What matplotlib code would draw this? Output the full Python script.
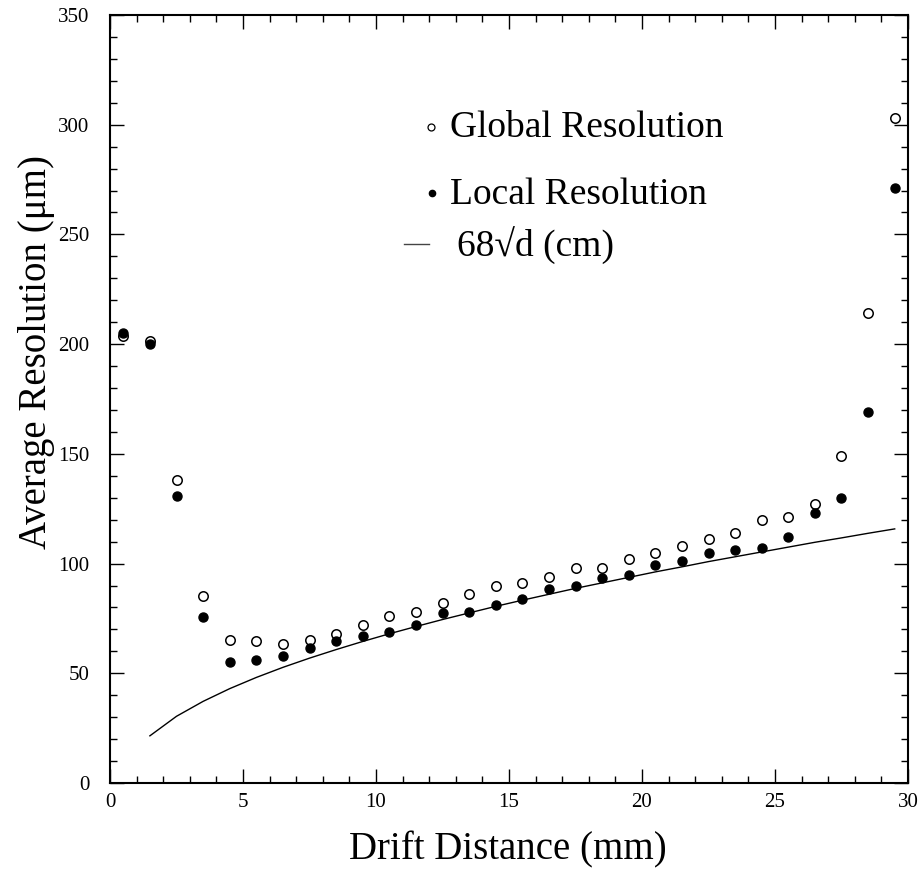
import matplotlib
matplotlib.use("Agg")
import matplotlib.pyplot as plt
from matplotlib.lines import Line2D

# ---- data ----
drift_mm = [0.5, 1.5, 2.5, 3.5, 4.5, 5.5, 6.5, 7.5, 8.5, 9.5,
            10.5, 11.5, 12.5, 13.5, 14.5, 15.5, 16.5, 17.5, 18.5, 19.5,
            20.5, 21.5, 22.5, 23.5, 24.5, 25.5, 26.5, 27.5, 28.5, 29.5]
global_res = [203.5, 201.5, 138, 85, 65, 64.5, 63.5, 65, 68, 72,
              76, 78, 82, 86, 90, 91, 94, 98, 98, 102,
              105, 108, 111, 114, 120, 121, 127, 149, 214, 303]
local_res = [205, 200, 131, 75.5, 55, 56, 58, 61.5, 64.5, 67,
             69, 72, 77.5, 78, 81, 84, 88.5, 90, 93.5, 95,
             99.5, 101, 105, 106, 107, 112, 123, 130, 169, 271]
curve_x = [1.5, 2.5, 3.5, 4.5, 5.5, 6.5, 7.5, 8.5, 9.5, 10.5,
           11.5, 12.5, 13.5, 14.5, 15.5, 16.5, 17.5, 18.5, 19.5, 20.5,
           21.5, 22.5, 23.5, 24.5, 25.5, 26.5, 27.5, 28.5, 29.5]
curve_y = [21.5, 30.4, 37.2, 43.0, 48.1, 52.7, 56.9, 60.8, 64.5, 68.0,
           71.3, 74.5, 77.5, 80.5, 83.3, 86.0, 88.7, 91.2, 93.7, 96.2,
           98.5, 100.9, 103.1, 105.3, 107.5, 109.7, 111.7, 113.8, 115.8]
x_ticks = [0, 5, 10, 15, 20, 25, 30]
y_ticks = [0, 50, 100, 150, 200, 250, 300, 350]

plt.rcParams['font.family'] = ['Liberation Serif', 'DejaVu Serif']

W, H = 924, 875
fig = plt.figure(figsize=(W / 100, H / 100), dpi=100)
ax = fig.add_axes([110 / W, 1 - 783 / H, (908 - 110) / W, (783 - 15) / H])

ax.plot(curve_x, curve_y, color='black', lw=1.0)
ax.plot(drift_mm, global_res, 'o', ms=6.8, mfc='white', mec='black', mew=1.1, ls='none')
ax.plot(drift_mm, local_res, 'o', ms=6.5, mfc='black', mec='black', ls='none')

ax.set_xlim(0, 30)
ax.set_ylim(0, 350)
ax.set_xticks(x_ticks)
ax.set_yticks(y_ticks)
ax.set_xticks(range(0, 31), minor=True)
ax.set_yticks(range(0, 351, 10), minor=True)
ax.tick_params(which='both', direction='in', top=True, right=True, width=1.0, colors='black')
ax.tick_params(which='major', length=10)
ax.tick_params(which='minor', length=5)
ax.tick_params(axis='x', which='major', pad=7, labelsize=15)
ax.tick_params(axis='y', which='major', pad=15, labelsize=15)
for s in ax.spines.values():
    s.set_linewidth(1.5)

fig.text(508 / W, 1 - 850 / H, 'Drift Distance (mm)', ha='center', va='center', fontsize=28)
fig.text(37 / W, 1 - 352 / H, 'Average Resolution (\u03bcm)', ha='center', va='center',
         rotation=90, fontsize=28)

# legend-like annotations
fig.text(450 / W, 1 - 137 / H, 'Global Resolution', ha='left', va='baseline', fontsize=27)
fig.text(450 / W, 1 - 204 / H, 'Local Resolution', ha='left', va='baseline', fontsize=27)
fig.text(457 / W, 1 - 257 / H, '68\u221ad (cm)', ha='left', va='baseline', fontsize=27)
fig.add_artist(Line2D([431 / W], [1 - 127 / H], marker='o', ms=5, mfc='white', mec='black',
                      mew=0.9, transform=fig.transFigure))
fig.add_artist(Line2D([432 / W], [1 - 193 / H], marker='o', ms=4.5, mfc='black', mec='black',
                      transform=fig.transFigure))
fig.add_artist(Line2D([404 / W, 429 / W], [1 - 244 / H, 1 - 244 / H], color='#444444', lw=1.0,
                      transform=fig.transFigure))

fig.savefig('out.png', dpi=100)
